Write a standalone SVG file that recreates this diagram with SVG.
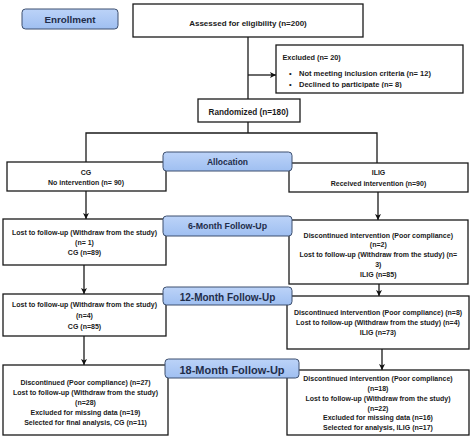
<svg xmlns="http://www.w3.org/2000/svg" width="474" height="441" viewBox="0 0 474 441">
<defs>
<linearGradient id="lg" x1="0" y1="0" x2="0" y2="1">
<stop offset="0" stop-color="#bcd3f8"/>
<stop offset="1" stop-color="#9fbff1"/>
</linearGradient>
<marker id="ah" viewBox="0 0 6 6" refX="6" refY="3" markerWidth="6" markerHeight="6" markerUnits="userSpaceOnUse" orient="auto">
<path d="M0,0 L6,3 L0,6 L1.5,3 Z" fill="#111"/>
</marker>
<clipPath id="exclip"><rect x="276" y="45" width="187" height="43"/></clipPath>
</defs>
<style>
.box{fill:#fff;stroke:#1a1a1a;stroke-width:1.3}
.lab{fill:url(#lg);stroke:#3d4f6e;stroke-width:1}
.t{font-family:"Liberation Sans",Arial,sans-serif;font-weight:bold;font-size:7px;fill:#1a1a1a;text-anchor:middle}
.tl{text-anchor:start}
.h{font-family:"Liberation Sans",Arial,sans-serif;font-weight:bold;fill:#1f2d4a;text-anchor:middle}
.c{fill:none;stroke:#1a1a1a;stroke-width:1.3}
</style>
<rect width="474" height="441" fill="#fff"/>

<g id="connectors">
<line class="c" x1="248" y1="37" x2="248" y2="99"/>
<line class="c" x1="248" y1="75" x2="276" y2="75" marker-end="url(#ah)"/>
<line class="c" x1="248" y1="122" x2="248" y2="133"/>
<polyline class="c" points="86,162 86,133 377,133 377,163"/>
<line class="c" x1="86" y1="191" x2="86" y2="219" marker-end="url(#ah)"/>
<line class="c" x1="378" y1="192" x2="378" y2="220" marker-end="url(#ah)"/>
<line class="c" x1="84" y1="265" x2="84" y2="294" marker-end="url(#ah)"/>
<line class="c" x1="379" y1="284" x2="379" y2="296" marker-end="url(#ah)"/>
<line class="c" x1="84" y1="336" x2="84" y2="365" marker-end="url(#ah)"/>
<line class="c" x1="382" y1="349" x2="382" y2="370" marker-end="url(#ah)"/>
</g>

<g id="assessed">
<rect class="box" x="133" y="4" width="230" height="33"/>
<text class="t" x="248" y="26" style="font-size:8px">Assessed for eligibility (n=200)</text>
</g>

<g id="excluded">
<rect class="box" x="276" y="45" width="187" height="48"/>
<g clip-path="url(#exclip)">
<text class="t tl" x="282.5" y="59.5" style="font-size:7.3px">Excluded (n= 20)</text>
<text class="t tl" x="289" y="76" style="font-size:7.5px">•</text>
<text class="t tl" x="299" y="76" style="font-size:7.5px">Not meeting inclusion criteria (n= 12)</text>
<text class="t tl" x="289" y="87.3" style="font-size:7.5px">•</text>
<text class="t tl" x="299" y="87.3" style="font-size:7.5px">Declined to participate (n= 8)</text>
</g>
</g>

<g id="randomized">
<rect class="box" x="198" y="99" width="102" height="23"/>
<text class="t" x="248.5" y="114.5" style="font-size:8.2px">Randomized (n=180)</text>
</g>

<g id="cg">
<rect class="box" x="7" y="162" width="159" height="29"/>
<text class="t" x="86" y="175">CG</text>
<text class="t" x="86" y="185.3">No intervention (n= 90)</text>
</g>

<g id="ilig">
<rect class="box" x="289" y="163" width="179" height="29"/>
<text class="t" x="378.5" y="175.3">ILIG</text>
<text class="t" x="378.5" y="185.7">Received intervention (n=90)</text>
</g>

<g id="cg-6m">
<rect class="box" x="3" y="219" width="163" height="46"/>
<text class="t" x="84.5" y="235.3">Lost to follow-up (Withdraw from the study)</text>
<text class="t" x="84.5" y="245.3">(n= 1)</text>
<text class="t" x="84.5" y="255.3">CG (n=89)</text>
</g>

<g id="ilig-6m">
<rect class="box" x="289" y="220" width="179" height="64"/>
<text class="t" x="378.3" y="237.6">Discontinued intervention (Poor compliance)</text>
<text class="t" x="378.3" y="247">(n=2)</text>
<text class="t" x="378.3" y="257">Lost to follow-up (Withdraw from the study) (n=</text>
<text class="t" x="378.3" y="266.6">3)</text>
<text class="t" x="378.3" y="276.6">ILIG (n=85)</text>
</g>

<g id="cg-12m">
<rect class="box" x="3" y="294" width="163" height="42"/>
<text class="t" x="84.5" y="306.6">Lost to follow-up (Withdraw from the study)</text>
<text class="t" x="84.5" y="317.6">(n=4)</text>
<text class="t" x="84.5" y="328.6">CG (n=85)</text>
</g>

<g id="ilig-12m">
<rect class="box" x="287" y="296" width="182" height="53"/>
<text class="t" x="378" y="315.3">Discontinued intervention (Poor compliance) (n=8)</text>
<text class="t" x="378" y="325.3">Lost to follow-up (Withdraw from the study) (n=4)</text>
<text class="t" x="378" y="335.3">ILIG (n=73)</text>
</g>

<g id="cg-18m">
<rect class="box" x="3" y="365" width="165" height="70"/>
<text class="t" x="85.5" y="385.3">Discontinued (Poor compliance) (n=27)</text>
<text class="t" x="85.5" y="395.3">Lost to follow-up (Withdraw from the study)</text>
<text class="t" x="85.5" y="404.9">(n=28)</text>
<text class="t" x="85.5" y="414.9">Excluded for missing data (n=19)</text>
<text class="t" x="85.5" y="424.6">Selected for final analysis, CG (n=11)</text>
</g>

<g id="ilig-18m">
<rect class="box" x="287" y="370" width="182" height="65"/>
<text class="t" x="378" y="381.3">Discontinued intervention (Poor compliance)</text>
<text class="t" x="378" y="390.9">(n=18)</text>
<text class="t" x="378" y="400.9">Lost to follow-up (Withdraw from the study)</text>
<text class="t" x="378" y="410.6">(n=22)</text>
<text class="t" x="378" y="420.3">Excluded for missing data (n=16)</text>
<text class="t" x="378" y="429.9">Selected for analysis, ILIG (n=17)</text>
</g>

<g id="enrollment">
<rect class="lab" x="22" y="9" width="96" height="20" rx="3.5"/>
<text class="h" x="70" y="22.6" style="font-size:9.8px">Enrollment</text>
</g>

<g id="allocation">
<rect class="lab" x="163" y="152" width="129" height="19" rx="3.5"/>
<text class="h" x="227.5" y="165.3" style="font-size:8.5px">Allocation</text>
</g>

<g id="fu6">
<rect class="lab" x="163" y="216" width="129" height="20" rx="3.5"/>
<text class="h" x="227.5" y="229.2" style="font-size:8.8px">6-Month Follow-Up</text>
</g>

<g id="fu12">
<rect class="lab" x="163" y="287" width="129" height="18" rx="3.5"/>
<text class="h" x="227.5" y="300.8" style="font-size:10px">12-Month Follow-Up</text>
</g>

<g id="fu18">
<rect class="lab" x="165" y="359" width="134" height="19" rx="3.5"/>
<text class="h" x="232" y="373.8" style="font-size:11px">18-Month Follow-Up</text>
</g>
</svg>
